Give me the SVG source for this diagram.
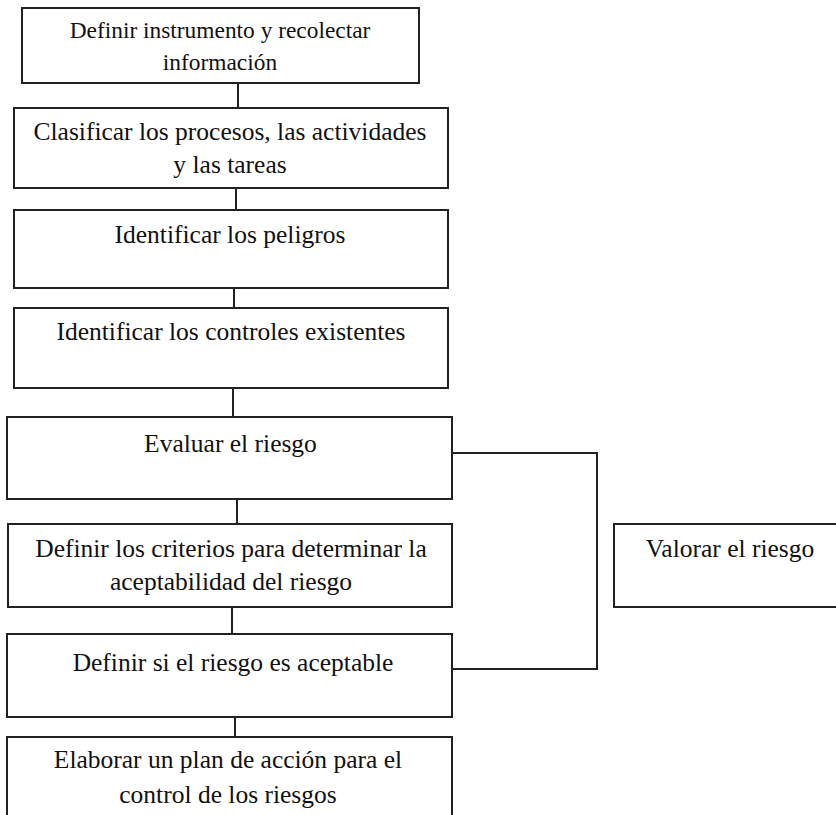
<svg xmlns="http://www.w3.org/2000/svg" width="836" height="815" viewBox="0 0 836 815">
<style>
.box{fill:#fff;stroke:#222;stroke-width:2}
.con{fill:none;stroke:#222;stroke-width:2}
text{font-family:"Liberation Serif","Times New Roman",serif;font-size:25.5px;fill:#111;text-anchor:middle}
.small{font-size:23.4px}
</style>
<rect width="836" height="815" fill="#fff"/>
<g id="connectors">
<line class="con" x1="238" y1="83" x2="238" y2="108"/>
<line class="con" x1="236" y1="188" x2="236" y2="210"/>
<line class="con" x1="234" y1="288" x2="234" y2="308"/>
<line class="con" x1="233" y1="388" x2="233" y2="417"/>
<line class="con" x1="237" y1="499" x2="237" y2="524"/>
<line class="con" x1="232" y1="607" x2="232" y2="634"/>
<line class="con" x1="235" y1="717" x2="235" y2="737"/>
<polyline class="con" points="452,453 597,453 597,669 452,669"/>
</g>
<g id="n1">
<rect class="box" x="22" y="8" width="397" height="75"/>
<text class="small" x="220" y="38">Definir instrumento y recolectar</text>
<text class="small" x="220" y="70">información</text>
</g>
<g id="n2">
<rect class="box" x="14" y="108" width="434" height="80"/>
<text x="230" y="140">Clasificar los procesos, las actividades</text>
<text x="230" y="173">y las tareas</text>
</g>
<g id="n3">
<rect class="box" x="14" y="210" width="434" height="78"/>
<text x="230" y="243">Identificar los peligros</text>
</g>
<g id="n4">
<rect class="box" x="14" y="308" width="434" height="80"/>
<text x="231" y="340">Identificar los controles existentes</text>
</g>
<g id="n5">
<rect class="box" x="7" y="417" width="445" height="82"/>
<text x="230.5" y="452">Evaluar el riesgo</text>
</g>
<g id="n6">
<rect class="box" x="8" y="524" width="444" height="83"/>
<text x="231" y="557">Definir los criterios para determinar la</text>
<text x="231" y="590">aceptabilidad del riesgo</text>
</g>
<g id="n7">
<rect class="box" x="7" y="634" width="445" height="83"/>
<text x="233" y="671">Definir si el riesgo es aceptable</text>
</g>
<g id="n8">
<rect class="box" x="7" y="737" width="445" height="95"/>
<text x="228" y="768">Elaborar un plan de acción para el</text>
<text x="228" y="803">control de los riesgos</text>
</g>
<g id="n9">
<rect class="box" x="614" y="524" width="240" height="83"/>
<text x="730" y="557">Valorar el riesgo</text>
</g>
</svg>
